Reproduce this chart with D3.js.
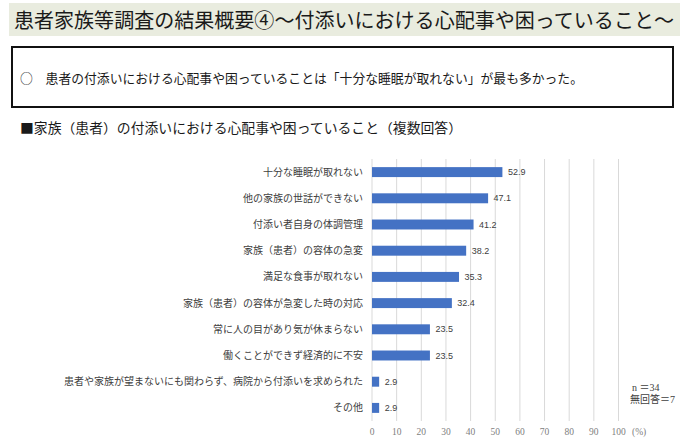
<!DOCTYPE html>
<html>
<head>
<meta charset="utf-8">
<script src="https://cdn.jsdelivr.net/npm/d3@7"></script>
<style>
  body { margin: 0; background: #fff; }
  svg { display: block; }
</style>
</head>
<body>
<script>
// 見出し・説明文
const titleText = '患者家族等調査の結果概要④～付添いにおける心配事や困っていること～';
const boxText = '○　患者の付添いにおける心配事や困っていることは「十分な睡眠が取れない」が最も多かった。';
const chartTitle = '■家族（患者）の付添いにおける心配事や困っていること（複数回答）';

// 項目と割合(%)
const categories = [
    '十分な睡眠が取れない',
    '他の家族の世話ができない',
    '付添い者自身の体調管理',
    '家族（患者）の容体の急変',
    '満足な食事が取れない',
    '家族（患者）の容体が急変した時の対応',
    '常に人の目があり気が休まらない',
    '働くことができず経済的に不安',
    '患者や家族が望まないにも関わらず、病院から付添いを求められた',
    'その他'
];
const values = [52.9, 47.1, 41.2, 38.2, 35.3, 32.4, 23.5, 23.5, 2.9, 2.9];
const xTicks = [0, 10, 20, 30, 40, 50, 60, 70, 80, 90, 100];
const noteLines = ['n ＝34', '無回答＝7'];

const width = 696, height = 445;
const jp = '"Noto Sans CJK JP", "Noto Sans", sans-serif';

const svg = d3.select('body').append('svg')
    .attr('width', width)
    .attr('height', height);

// タイトル帯
svg.append('rect')
    .attr('x', 9).attr('y', 3).attr('width', 671).attr('height', 33)
    .attr('fill', '#e9ecdf');
svg.append('text')
    .attr('x', 14).attr('y', 28)
    .attr('font-family', jp).attr('font-size', 20.5)
    .attr('fill', '#1a1a1a')
    .attr('textLength', 660).attr('lengthAdjust', 'spacingAndGlyphs')
    .text(titleText);

// 説明ボックス
svg.append('rect')
    .attr('x', 12).attr('y', 47).attr('width', 661).attr('height', 60)
    .attr('fill', '#fff').attr('stroke', '#111').attr('stroke-width', 2);
svg.append('text')
    .attr('x', 20).attr('y', 83)
    .attr('font-family', jp).attr('font-size', 13)
    .attr('fill', '#1a1a1a')
    .attr('textLength', 563).attr('lengthAdjust', 'spacingAndGlyphs')
    .text(boxText);

// グラフの見出し
svg.append('text')
    .attr('x', 20).attr('y', 133)
    .attr('font-family', jp).attr('font-size', 13.5)
    .attr('fill', '#1a1a1a')
    .attr('textLength', 442).attr('lengthAdjust', 'spacingAndGlyphs')
    .text(chartTitle);

// スケール
const x = d3.scaleLinear().domain([0, 100]).range([372, 618.5]);
const y = d3.scaleBand().domain(categories).range([159, 421])
    .paddingInner(0.62).paddingOuter(0.31);

// 目盛線
svg.append('g').selectAll('line')
    .data(xTicks)
    .join('line')
    .attr('x1', d => x(d)).attr('x2', d => x(d))
    .attr('y1', 159).attr('y2', 421)
    .attr('stroke', '#d9d9d9').attr('stroke-width', 1);

// 目盛ラベル
svg.append('g').selectAll('text')
    .data(xTicks)
    .join('text')
    .attr('x', d => x(d)).attr('y', 435)
    .attr('text-anchor', 'middle')
    .attr('font-family', '"Liberation Serif", serif').attr('font-size', 9.5)
    .attr('fill', '#808080')
    .text(d => d);
svg.append('text')
    .attr('x', 632).attr('y', 435)
    .attr('font-family', '"Liberation Serif", serif').attr('font-size', 9.5)
    .attr('fill', '#808080')
    .text('(%)');

// 棒
svg.append('g').selectAll('rect')
    .data(values)
    .join('rect')
    .attr('x', x(0))
    .attr('y', (d, i) => y(categories[i]))
    .attr('width', d => x(d) - x(0))
    .attr('height', y.bandwidth())
    .attr('fill', '#4472c4');

// 値ラベル
svg.append('g').selectAll('text')
    .data(values)
    .join('text')
    .attr('x', d => x(d) + 5.5)
    .attr('y', (d, i) => y(categories[i]) + y.bandwidth() / 2)
    .attr('dy', '0.35em')
    .attr('font-family', '"Liberation Sans", sans-serif').attr('font-size', 9)
    .attr('fill', '#404040')
    .text(d => d.toFixed(1));

// 項目ラベル
svg.append('g').selectAll('text')
    .data(categories)
    .join('text')
    .attr('x', 363)
    .attr('y', d => y(d) + y.bandwidth() / 2)
    .attr('dy', '0.35em')
    .attr('text-anchor', 'end')
    .attr('font-family', jp).attr('font-size', 10)
    .attr('fill', '#404040')
    .text(d => d);

// 回答数
svg.append('g').selectAll('text')
    .data(noteLines)
    .join('text')
    .attr('x', (d, i) => i === 0 ? 632 : 630)
    .attr('y', (d, i) => 391 + i * 12)
    .attr('font-family', '"Liberation Serif", "Noto Sans CJK JP", serif').attr('font-size', 10)
    .attr('fill', '#404040')
    .text(d => d);
</script>
</body>
</html>
